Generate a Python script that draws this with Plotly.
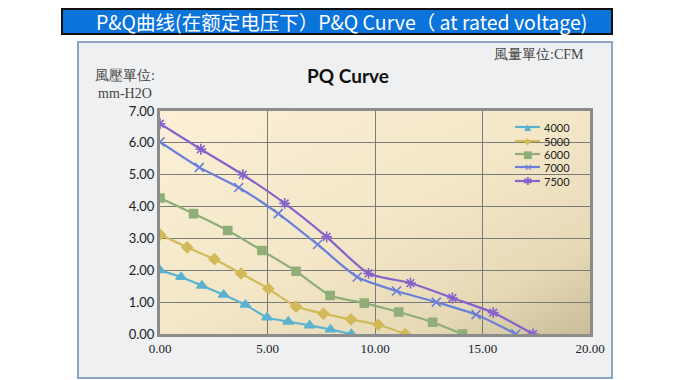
import base64
import plotly.graph_objects as go

# ---- data ----
speeds = ["4000", "5000", "6000", "7000", "7500"]
x_4000 = [0, 0.98, 1.95, 2.96, 3.97, 4.98, 5.97, 6.96, 7.93, 8.9]
y_4000 = [2.0, 1.79, 1.52, 1.23, 0.92, 0.52, 0.39, 0.27, 0.14, 0]
x_5000 = [0, 1.26, 2.53, 3.77, 5.04, 6.33, 7.6, 8.88, 10.15, 11.4]
y_5000 = [3.12, 2.72, 2.35, 1.9, 1.42, 0.86, 0.64, 0.46, 0.29, 0]
x_6000 = [0, 1.56, 3.15, 4.74, 6.33, 7.91, 9.5, 11.1, 12.68, 14.07]
y_6000 = [4.27, 3.78, 3.25, 2.62, 1.97, 1.21, 0.97, 0.69, 0.37, 0]
x_7000 = [0, 1.83, 3.66, 5.5, 7.33, 9.17, 11.0, 12.85, 14.7, 16.55]
y_7000 = [6.03, 5.23, 4.6, 3.78, 2.81, 1.79, 1.35, 1.0, 0.61, 0]
x_7500 = [0, 1.9, 3.85, 5.8, 7.75, 9.7, 11.65, 13.6, 15.5, 17.35]
y_7500 = [6.6, 5.8, 5.0, 4.1, 3.05, 1.9, 1.6, 1.13, 0.67, 0]

x_ticks = [0, 5, 10, 15, 20]
x_tick_text = ["0.00", "5.00", "10.00", "15.00", "20.00"]
y_ticks = [0, 1, 2, 3, 4, 5, 6, 7]
y_tick_text = ["0.00", "1.00", "2.00", "3.00", "4.00", "5.00", "6.00", "7.00"]

banner_text = "P&Q曲线(在额定电压下）P&Q Curve（ at rated voltage)"
chart_title = "PQ Curve"
y_unit = "風壓單位:<br>mm-H2O"
x_unit = "風量單位:CFM"

series_x = [x_4000, x_5000, x_6000, x_7000, x_7500]
series_y = [y_4000, y_5000, y_6000, y_7000, y_7500]
colors = ["#5BB3CF", "#D2BA5A", "#8FAE78", "#6A7FDA", "#8663C9"]
symbols = ["triangle-up", "diamond", "square", "x-thin-open", "asterisk-open"]
msizes = [9, 8, 8, 9, 9]
legend_glyphs = ["▲", "◆", "■", "✕", "✱"]
legend_gsize = [9, 9, 10, 10, 11]

# page body has an 8px margin; layout numbers below are screen pixels
OFF = 8
W, H = 680, 380
PL, PR, PT, PB = 160, 590, 111, 334  # plot area on screen
L, T = PL - OFF, PT - OFF
R, B = W - (PR - OFF), H - (PB - OFF)
pw, ph = PR - PL, PB - PT


def px(xs):
    return (xs - PL) / pw


def py(ys):
    return (PB - ys) / ph


fig = go.Figure()
for name, xs, ys, c, s, ms in zip(speeds, series_x, series_y, colors, symbols, msizes):
    fig.add_trace(go.Scatter(
        x=xs, y=ys, name=name, mode="lines+markers", showlegend=False,
        line=dict(color=c, width=2.2, shape="spline", smoothing=0.6),
        marker=dict(symbol=s, size=ms, color=c, line=dict(color=c, width=1.6)),
    ))

svg = (
    '<svg xmlns="http://www.w3.org/2000/svg" width="400" height="200" viewBox="0 0 400 200" preserveAspectRatio="none">'
    '<defs><linearGradient id="g" x1="0" y1="0" x2="1" y2="1">'
    '<stop offset="0" stop-color="#FBF0D6"/>'
    '<stop offset="0.5" stop-color="#F3E7C8"/>'
    '<stop offset="0.8" stop-color="#E6D9B6"/>'
    '<stop offset="1" stop-color="#C9BC98"/>'
    '</linearGradient></defs>'
    '<rect x="0" y="0" width="400" height="200" fill="url(#g)"/></svg>'
)
src = "data:image/svg+xml;base64," + base64.b64encode(svg.encode()).decode()

fig.add_layout_image(dict(
    source=src, xref="x", yref="y", x=0, y=7, sizex=20, sizey=7,
    sizing="stretch", layer="below", xanchor="left", yanchor="top",
))

shapes = [
    dict(type="rect", xref="paper", yref="paper", x0=px(78), x1=px(612), y0=py(378), y1=py(42),
         fillcolor="#EEF0F2", line=dict(color="#8EA6C6", width=2), layer="below"),
    dict(type="rect", xref="paper", yref="paper", x0=px(62), x1=px(612), y0=py(34), y1=py(9),
         fillcolor="#0B74DA", line=dict(color="#111111", width=2), layer="below"),
]

annotations = [
    dict(text=banner_text, xref="paper", yref="paper", x=px(341), y=py(21.5), showarrow=False,
         font=dict(family="Noto Sans CJK SC", size=19.5, color="white"), xanchor="center", yanchor="middle"),
    dict(text="<b>" + chart_title + "</b>", xref="paper", yref="paper", x=px(348), y=py(75), showarrow=False,
         font=dict(family="Lato", size=19, color="#111111"), xanchor="center", yanchor="middle"),
    dict(text=y_unit, xref="paper", yref="paper", x=px(125), y=py(84), showarrow=False, align="center",
         font=dict(family="Liberation Serif", size=14, color="#444444"), xanchor="center", yanchor="middle"),
    dict(text=x_unit, xref="paper", yref="paper", x=px(586), y=py(55), showarrow=False,
         font=dict(family="Liberation Serif", size=14, color="#444444"), xanchor="right", yanchor="middle"),
]

# custom compact legend
leg_y = [127, 141, 154, 167, 181]
for name, c, g, gs, ly in zip(speeds, colors, legend_glyphs, legend_gsize, leg_y):
    shapes.append(dict(type="line", xref="paper", yref="paper", x0=px(515), x1=px(540),
                       y0=py(ly), y1=py(ly), line=dict(color=c, width=2.2)))
    annotations.append(dict(text=g, xref="paper", yref="paper", x=px(527.5), y=py(ly), showarrow=False,
                            font=dict(family="DejaVu Sans", size=gs, color=c),
                            xanchor="center", yanchor="middle"))
    annotations.append(dict(text=name, xref="paper", yref="paper", x=px(542), y=py(ly), showarrow=False,
                            font=dict(family="Lato", size=11, color="#222222"),
                            xanchor="left", yanchor="middle"))

fig.update_layout(
    width=W, height=H,
    margin=dict(l=L, r=R, t=T, b=B),
    paper_bgcolor="white",
    plot_bgcolor="rgba(0,0,0,0)",
    shapes=shapes,
    annotations=annotations,
    showlegend=False,
    xaxis=dict(range=[0, 20], tickvals=x_ticks, ticktext=x_tick_text, showgrid=True,
               gridcolor="#7A7A7A", gridwidth=1.3, zeroline=False, showline=True, mirror=True,
               linecolor="#8C8C8C", linewidth=3, ticks="",
               tickfont=dict(family="Liberation Serif", size=13, color="#222222")),
    yaxis=dict(range=[0, 7], tickvals=y_ticks, ticktext=y_tick_text, showgrid=True,
               gridcolor="#7A7A7A", gridwidth=1.3, zeroline=False, showline=True, mirror=True,
               linecolor="#8C8C8C", linewidth=3, ticks="",
               tickfont=dict(family="Lato", size=13, color="#222222")),
)

fig.write_html("out.html")
